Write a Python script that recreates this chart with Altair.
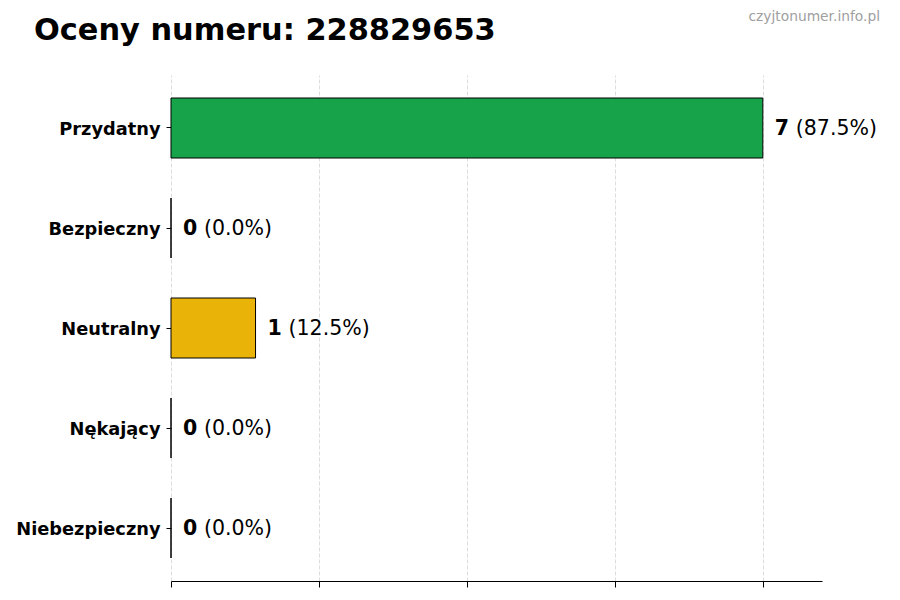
import altair as alt
import pandas as pd

categories = ["Przydatny", "Bezpieczny", "Neutralny", "Nękający", "Niebezpieczny"]
counts = [7, 0, 1, 0, 0]
percents = ["(87.5%)", "(0.0%)", "(12.5%)", "(0.0%)", "(0.0%)"]
colors = ["#16a34a", "#9ca3af", "#eab308", "#f97316", "#dc2626"]
x_ticks = [0, 1.75, 3.5, 5.25, 7]
title_text = "Oceny numeru: 228829653"
watermark = "czyjtonumer.info.pl"

df = pd.DataFrame({
    "cat": categories,
    "count": counts,
    "pct": percents,
    "color": colors,
})

W, H = 651, 506

y_enc = alt.Y(
    "cat:N",
    sort=categories,
    scale=alt.Scale(paddingInner=0.4, paddingOuter=0.23),
    axis=alt.Axis(
        title=None,
        domain=False,
        ticks=True,
        tickSize=5,
        tickColor="black",
        labelFont="DejaVu Sans",
        labelFontSize=17.8,
        labelFontWeight="bold",
        labelColor="black",
        labelPadding=6,
        labelBaseline="middle",
        labelOffset=1.5,
        grid=False,
    ),
)

x_scale = alt.Scale(domain=[0, 7.7], nice=False, zero=True)

bars = alt.Chart(df).mark_bar(stroke="black", strokeWidth=1).encode(
    x=alt.X(
        "count:Q",
        scale=x_scale,
        axis=alt.Axis(
            title=None,
            values=x_ticks,
            labels=False,
            domain=True,
            domainColor="black",
            domainWidth=1,
            ticks=True,
            tickColor="black",
            tickSize=6,
            grid=True,
            gridColor="#d4d4d4",
            gridDash=[4, 2],
            gridWidth=0.8,
        ),
    ),
    y=y_enc,
    color=alt.Color("color:N", scale=None),
)

num = alt.Chart(df).mark_text(
    align="left", baseline="middle", dx=12, dy=1, font="DejaVu Sans",
    fontSize=20.5, fontWeight="bold", color="black",
).encode(
    x=alt.X("count:Q", scale=x_scale),
    y=alt.Y("cat:N", sort=categories),
    text="count:N",
)

pct = alt.Chart(df).mark_text(
    align="left", baseline="middle", dx=33, dy=1, font="DejaVu Sans",
    fontSize=20.5, fontWeight="normal", color="black",
).encode(
    x=alt.X("count:Q", scale=x_scale),
    y=alt.Y("cat:N", sort=categories),
    text="pct:N",
)

wm = alt.Chart(pd.DataFrame({"t": [watermark]})).mark_text(
    align="right", baseline="middle", font="DejaVu Sans", fontSize=13.8,
    color="#a0a0a0",
).encode(
    x=alt.value(709), y=alt.value(-58), text="t:N",
)

ttl = alt.Chart(pd.DataFrame({"t": [title_text]})).mark_text(
    align="left", baseline="alphabetic", font="DejaVu Sans", fontSize=30.4,
    fontWeight="bold", color="black",
).encode(
    x=alt.value(-137), y=alt.value(-35), text="t:N",
)

chart = alt.layer(bars, num, pct, wm, ttl).properties(
    width=W,
    height=H,
    background="white",
    autosize=alt.AutoSizeParams(type="none"),
    padding={"left": 163, "top": 67, "right": 70, "bottom": 19},
).configure_view(strokeOpacity=0, strokeWidth=0)

chart.save("out.html", embed_options={"renderer": "svg", "actions": False})
